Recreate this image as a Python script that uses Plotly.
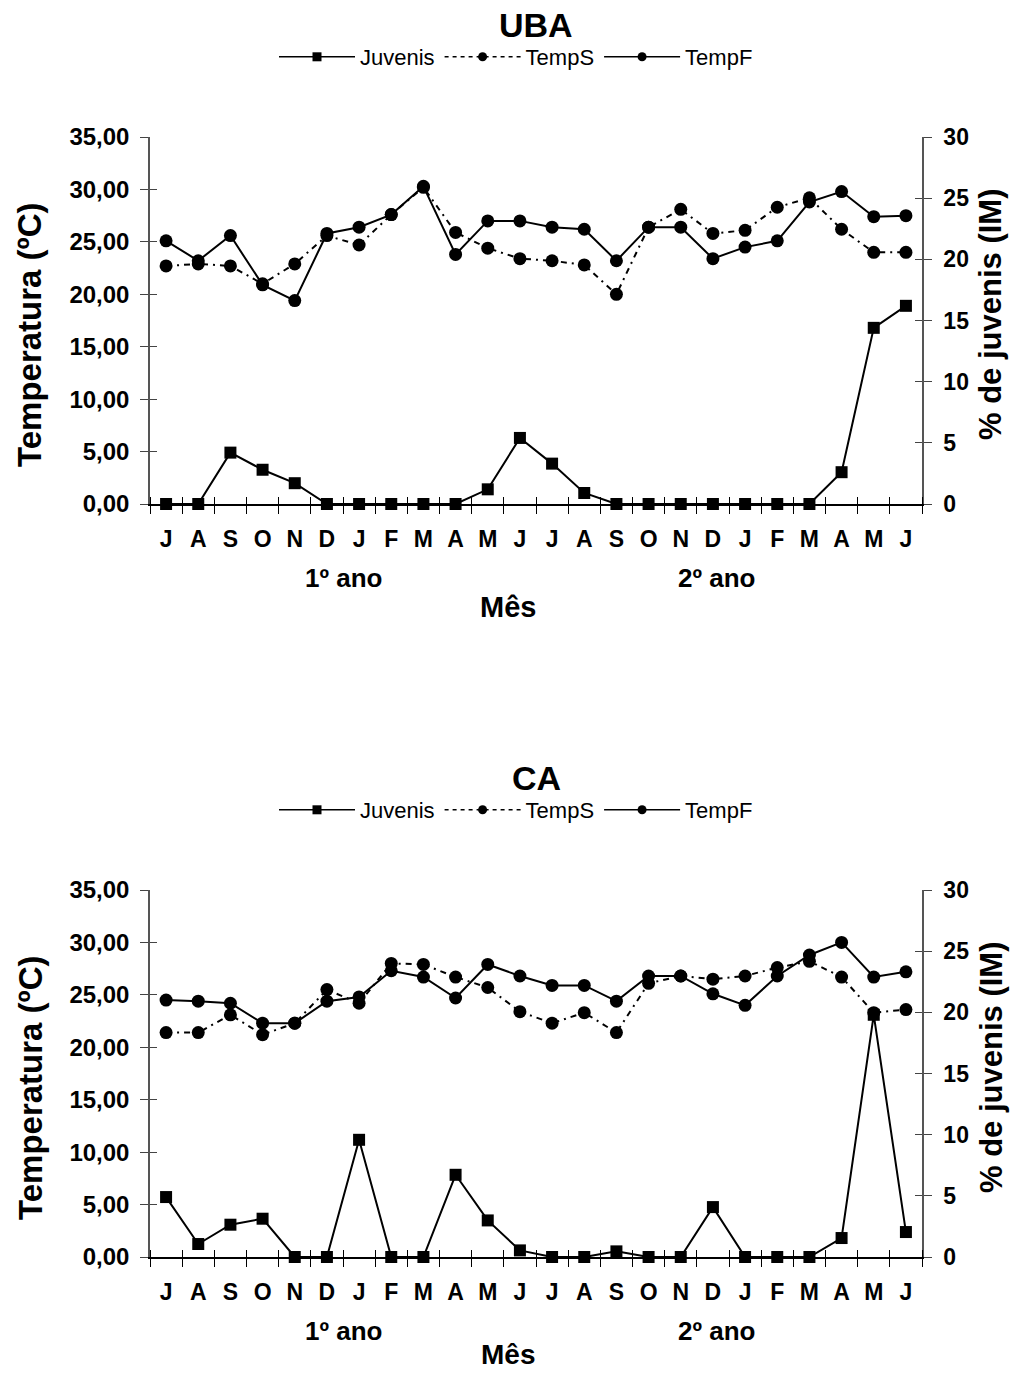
import plotly.graph_objects as go

months = ["J", "A", "S", "O", "N", "D", "J", "F", "M", "A", "M", "J",
          "J", "A", "S", "O", "N", "D", "J", "F", "M", "A", "M", "J"]

uba_juvenis = [0, 0, 4.2, 2.8, 1.7, 0, 0, 0, 0, 0, 1.2, 5.4,
               3.3, 0.9, 0, 0, 0, 0, 0, 0, 0, 2.6, 14.4, 16.2]
uba_temps = [22.7, 22.9, 22.7, 21.0, 22.9, 25.6, 24.7, 27.6, 30.2, 25.9, 24.4, 23.4,
             23.2, 22.8, 20.0, 26.4, 28.1, 25.8, 26.1, 28.3, 29.2, 26.2, 24.0, 24.0]
uba_tempf = [25.1, 23.2, 25.6, 20.9, 19.4, 25.8, 26.4, 27.6, 30.3, 23.8, 27.0, 27.0,
             26.4, 26.2, 23.2, 26.4, 26.4, 23.4, 24.5, 25.1, 28.8, 29.8, 27.4, 27.5]

ca_juvenis = [4.9, 1.06, 2.64, 3.13, 0, 0, 9.58, 0, 0, 6.72, 2.99, 0.54,
              0, 0, 0.46, 0, 0, 4.08, 0, 0, 0, 1.55, 19.8, 2.04]
ca_temps = [21.4, 21.4, 23.1, 21.2, 22.3, 25.5, 24.2, 28.0, 27.9, 26.7, 25.7, 23.4,
            22.3, 23.3, 21.4, 26.1, 26.8, 26.5, 26.8, 27.6, 28.2, 26.7, 23.3, 23.6]
ca_tempf = [24.5, 24.4, 24.2, 22.3, 22.3, 24.4, 24.8, 27.3, 26.7, 24.7, 27.9, 26.8,
            25.9, 25.9, 24.4, 26.8, 26.8, 25.1, 24.0, 26.8, 28.8, 30.0, 26.7, 27.2]

temp_ticks = [0, 5, 10, 15, 20, 25, 30, 35]
temp_ticktext = ["0,00", "5,00", "10,00", "15,00", "20,00", "25,00", "30,00", "35,00"]
juv_ticks = [0, 5, 10, 15, 20, 25, 30]
juv_ticktext = ["0", "5", "10", "15", "20", "25", "30"]

FONT = "Liberation Sans, Arial, sans-serif"
xs = list(range(len(months)))

fig = go.Figure()

panels = [
    dict(juv=uba_juvenis, ts=uba_temps, tf=uba_tempf, x="x", yl="y", yr="y2",
         leg="legend", xi="x3", yli="y5", yri="y6"),
    dict(juv=ca_juvenis, ts=ca_temps, tf=ca_tempf, x="x2", yl="y3", yr="y4",
         leg="legend2", xi="x4", yli="y7", yri="y8"),
]

TS_DASH = "6px,5px,2px,5px"

for p in panels:
    fig.add_trace(go.Scatter(
        x=xs, y=p["juv"], name="Juvenis", mode="lines+markers",
        line=dict(color="black", width=2),
        marker=dict(symbol="square", size=12, color="black"),
        xaxis=p["x"], yaxis=p["yr"], showlegend=False, cliponaxis=False))
    fig.add_trace(go.Scatter(
        x=xs, y=p["ts"], name="TempS", mode="lines+markers",
        line=dict(color="black", width=2, dash=TS_DASH),
        marker=dict(symbol="circle", size=13, color="black"),
        xaxis=p["x"], yaxis=p["yl"], showlegend=False, cliponaxis=False))
    fig.add_trace(go.Scatter(
        x=xs, y=p["tf"], name="TempF", mode="lines+markers",
        line=dict(color="black", width=2),
        marker=dict(symbol="circle", size=13, color="black"),
        xaxis=p["x"], yaxis=p["yl"], showlegend=False, cliponaxis=False))
    # legend entries (smaller markers, as in the reference legend)
    for name, sym, dash in [("Juvenis", "square", "solid"),
                            ("TempS", "circle", "4px,4px"),
                            ("TempF", "circle", "solid")]:
        fig.add_trace(go.Scatter(
            x=[None], y=[None], name=name, mode="lines+markers",
            line=dict(color="black", width=1.5, dash=dash),
            marker=dict(symbol=sym, size=9, color="black"),
            xaxis=p["x"], yaxis=p["yl"], legend=p["leg"], showlegend=True))
    # empty traces so the inner-tick companion axes are drawn
    fig.add_trace(go.Scatter(x=[None], y=[None], xaxis=p["xi"], yaxis=p["yli"],
                             showlegend=False, hoverinfo="skip"))
    fig.add_trace(go.Scatter(x=[None], y=[None], xaxis=p["xi"], yaxis=p["yri"],
                             showlegend=False, hoverinfo="skip"))

xdom = [150 / 1018, 922 / 1018]
H = 1373.0
OFF = 753
top_dom = [(H - 504) / H, (H - 137) / H]
bot_dom = [(H - 504 - OFF) / H, (H - 137 - OFF) / H]

def xaxis_cfg(anchor):
    return dict(
        domain=xdom, anchor=anchor, range=[-0.5, 23.5],
        tickmode="array", tickvals=xs, ticktext=months, ticks="",
        tickfont=dict(family=FONT, size=23, color="black", weight="bold"),
        ticklabelstandoff=14,
        showline=True, linecolor="black", linewidth=1.5,
        showgrid=False, zeroline=False,
        minor=dict(tick0=-0.5, dtick=1, ticks="outside", ticklen=8,
                   tickcolor="black", tickwidth=1.3, showgrid=False),
    )

def xinner_cfg(overlay, anchor):
    return dict(
        overlaying=overlay, anchor=anchor, range=[-0.5, 23.5],
        tickmode="array", tickvals=xs, ticks="", showticklabels=False,
        showline=False, showgrid=False, zeroline=False,
        minor=dict(tick0=-0.5, dtick=1, ticks="inside", ticklen=7,
                   tickcolor="black", tickwidth=1.3, showgrid=False),
    )

def yleft_cfg(dom, anchor):
    return dict(
        domain=dom, anchor=anchor, range=[0, 35],
        tickmode="array", tickvals=temp_ticks, ticktext=temp_ticktext,
        ticks="outside", ticklen=8, tickcolor="#444", tickwidth=1.3,
        tickfont=dict(family=FONT, size=24, color="black", weight="bold"),
        ticklabelstandoff=6,
        showline=True, linecolor="#555", linewidth=1.5,
        showgrid=False, zeroline=False,
    )

def yright_cfg(overlay, anchor):
    return dict(
        overlaying=overlay, anchor=anchor, side="right", range=[0, 30],
        tickmode="array", tickvals=juv_ticks, ticktext=juv_ticktext,
        ticks="outside", ticklen=8, tickcolor="#444", tickwidth=1.3,
        tickfont=dict(family=FONT, size=23, color="black", weight="bold"),
        ticklabelstandoff=7,
        showline=True, linecolor="#555", linewidth=1.5,
        showgrid=False, zeroline=False,
    )

def yinner_cfg(overlay, anchor, side, rng, vals):
    return dict(
        overlaying=overlay, anchor=anchor, side=side, range=rng,
        tickmode="array", tickvals=vals, ticks="inside", ticklen=7,
        tickcolor="#444", tickwidth=1.3, showticklabels=False,
        showline=False, showgrid=False, zeroline=False,
    )

def legend_cfg(ypx):
    return dict(
        orientation="h", x=516 / 1018, xanchor="center", y=(H - ypx) / H, yanchor="middle",
        font=dict(family=FONT, size=22, color="black"),
        itemwidth=76, bgcolor="rgba(0,0,0,0)", traceorder="normal",
    )

fig.update_layout(
    width=1018, height=1373, autosize=False,
    margin=dict(l=0, r=0, t=0, b=0, autoexpand=False),
    paper_bgcolor="white", plot_bgcolor="white",
    font=dict(family=FONT, color="black"),
    xaxis=xaxis_cfg("y"),
    yaxis=yleft_cfg(top_dom, "x"),
    yaxis2=yright_cfg("y", "x"),
    xaxis2=xaxis_cfg("y3"),
    yaxis3=yleft_cfg(bot_dom, "x2"),
    yaxis4=yright_cfg("y3", "x2"),
    xaxis3=xinner_cfg("x", "y"),
    yaxis5=yinner_cfg("y", "x", "left", [0, 35], temp_ticks),
    yaxis6=yinner_cfg("y", "x", "right", [0, 30], juv_ticks),
    xaxis4=xinner_cfg("x2", "y3"),
    yaxis7=yinner_cfg("y3", "x2", "left", [0, 35], temp_ticks),
    yaxis8=yinner_cfg("y3", "x2", "right", [0, 30], juv_ticks),
    legend=legend_cfg(57),
    legend2=legend_cfg(57 + OFF),
)

def ann(text, xpx, ypx, size, bold=True, angle=0):
    fig.add_annotation(
        text=text, x=xpx / 1018, y=(H - ypx) / H, xref="paper", yref="paper",
        xanchor="center", yanchor="middle", showarrow=False, textangle=angle,
        font=dict(family=FONT, size=size, color="black",
                  weight="bold" if bold else "normal"))

for off, title in [(0, "UBA"), (OFF, "CA")]:
    ann(title, 536, 25 + off, 34)
    ann("Temperatura (ºC)", 30, 335 + off, 33, angle=-90)
    ann("% de juvenis (IM)", 991, 315 + off, 31, angle=-90)
    ann("1º ano", 343, 578 + off, 26)
    ann("2º ano", 716, 578 + off, 26)

ann("Mês", 508, 607, 29)
ann("Mês", 508, 1354, 28)

fig.write_html("out.html")
